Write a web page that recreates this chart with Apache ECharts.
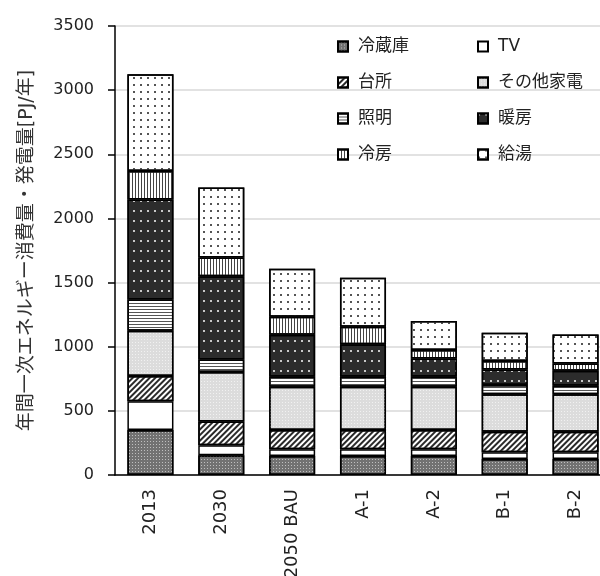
<!DOCTYPE html>
<html>
<head>
<meta charset="utf-8">
<script src="https://cdn.jsdelivr.net/npm/echarts@6/dist/echarts.min.js"></script>
<style>
  html, body { margin: 0; padding: 0; background: #fff; }
  #chart { width: 600px; height: 576px; }
</style>
</head>
<body>
<div id="chart"></div>
<script>
// Scenario categories along the x axis
const categories = ['2013', '2030', '2050 BAU', 'A-1', 'A-2', 'B-1', 'B-2'];

// Annual primary energy by end use [PJ/year], stacked bottom to top
const fridge   = [351, 153, 148, 148, 148, 125, 125]; // 冷蔵庫
const tv       = [223,  78,  52,  52,  52,  52,  52]; // TV
const kitchen  = [197, 187, 151, 151, 151, 160, 160]; // 台所
const otherApp = [353, 384, 337, 337, 337, 292, 292]; // その他家電
const lighting = [245,  99,  78,  78,  78,  72,  67]; // 照明
const heating  = [779, 649, 327, 254, 143, 122, 116]; // 暖房
const cooling  = [222, 146, 140, 135,  65,  65,  58]; // 冷房
const hotWater = [754, 545, 374, 382, 226, 220, 226]; // 給湯

const yTicks = { min: 0, max: 3500, interval: 500 };
const yName = '年間一次エネルギー消費量・発電量[PJ/年]';

const FONT = '"DejaVu Sans", "Noto Sans CJK JP", sans-serif';

// Fill + hatch pattern for each end use
const styles = {
  '冷蔵庫': { color: '#727272', decal: { symbol: 'rect', symbolSize: 1, symbolKeepAspect: false, color: 'rgba(255,255,255,0.55)', dashArrayX: [1, 2], dashArrayY: [1, 2] } },
  'TV': { color: '#ffffff', decal: null },
  '台所': { color: '#ffffff', decal: { symbol: 'rect', symbolSize: 1, symbolKeepAspect: false, color: '#2a2a2a', dashArrayX: [[1, 0]], dashArrayY: [2, 2], rotation: -Math.PI / 4 } },
  'その他家電': { color: '#dcdcdc', decal: { symbol: 'rect', symbolSize: 1, symbolKeepAspect: false, color: 'rgba(255,255,255,0.6)', dashArrayX: [1, 2], dashArrayY: [1, 2] } },
  '照明': { color: '#ffffff', decal: { symbol: 'rect', symbolSize: 1, symbolKeepAspect: false, color: '#555555', dashArrayX: [[1, 0]], dashArrayY: [1, 2] } },
  '暖房': { color: '#2c2c2c', decal: { symbol: 'rect', symbolSize: 1, symbolKeepAspect: true, color: '#c8c8c8', dashArrayX: [2, 5], dashArrayY: [2, 8] } },
  '冷房': { color: '#ffffff', decal: { symbol: 'rect', symbolSize: 1, symbolKeepAspect: false, color: '#444444', dashArrayX: [1, 2], dashArrayY: [6, 0] } },
  '給湯': { color: '#ffffff', decal: { symbol: 'rect', symbolSize: 1, symbolKeepAspect: true, color: '#555555', dashArrayX: [2, 5], dashArrayY: [2, 5] } }
};

const seriesDefs = [
  ['冷蔵庫', fridge],
  ['TV', tv],
  ['台所', kitchen],
  ['その他家電', otherApp],
  ['照明', lighting],
  ['暖房', heating],
  ['冷房', cooling],
  ['給湯', hotWater]
];

const series = seriesDefs.map(([name, data]) => {
  const s = styles[name];
  const itemStyle = { color: s.color, borderColor: '#000', borderWidth: 1.5 };
  if (s.decal) itemStyle.decal = s.decal;
  return {
    name: name,
    type: 'bar',
    stack: 'total',
    barWidth: '65%',
    data: data,
    itemStyle: itemStyle,
    emphasis: { disabled: true }
  };
});

const legendCommon = {
  orient: 'vertical',
  top: 38,
  padding: 0,
  icon: 'rect',
  itemWidth: 10,
  itemHeight: 10,
  itemGap: 19,
  textStyle: { fontFamily: FONT, fontSize: 17, color: '#222', padding: [0, 0, 0, 5] },
  selectedMode: false
};

const chart = echarts.init(document.getElementById('chart'), null, { renderer: 'canvas' });
chart.setOption({
  animation: false,
  backgroundColor: '#fff',
  grid: { left: 115, right: -11, top: 26, bottom: 101, containLabel: false, outerBoundsMode: 'none' },
  legend: [
    Object.assign({ left: 337, data: ['冷蔵庫', '台所', '照明', '冷房'] }, legendCommon),
    Object.assign({ left: 477, data: ['TV', 'その他家電', '暖房', '給湯'] }, legendCommon)
  ],
  xAxis: {
    type: 'category',
    data: categories,
    axisLine: { lineStyle: { color: '#000', width: 1.5 } },
    axisTick: { show: false },
    axisLabel: { rotate: 90, fontFamily: FONT, fontSize: 18, color: '#222', margin: 14 }
  },
  yAxis: {
    type: 'value',
    min: yTicks.min,
    max: yTicks.max,
    interval: yTicks.interval,
    name: yName,
    nameLocation: 'middle',
    nameGap: 78,
    nameTextStyle: { fontFamily: FONT, fontSize: 19, color: '#333' },
    axisLine: { show: true, lineStyle: { color: '#000', width: 1.5 } },
    axisTick: { show: true, length: 7, lineStyle: { color: '#000', width: 1.5 } },
    axisLabel: { fontFamily: FONT, fontSize: 16, color: '#222', margin: 21, formatter: v => String(v) },
    splitLine: { lineStyle: { color: '#d9d9d9', width: 1.5 } }
  },
  series: series
});
</script>
</body>
</html>
